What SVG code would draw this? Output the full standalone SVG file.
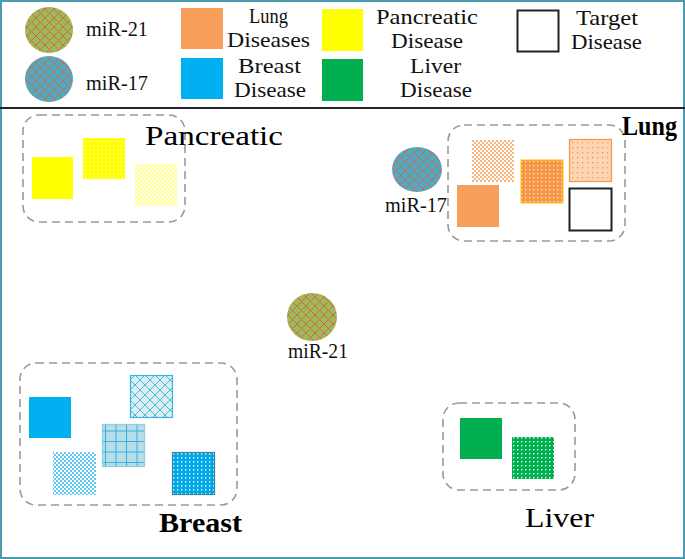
<svg xmlns="http://www.w3.org/2000/svg" width="685" height="559" viewBox="0 0 685 559">
<style>
.lbl{font-family:"Liberation Serif",serif;font-size:21px;fill:#111}
.big{font-family:"Liberation Serif",serif;font-size:28px;fill:#000}
.bold{font-weight:bold}
.grp{fill:none;stroke:#999;stroke-width:1.6;stroke-dasharray:8 5}
</style>
<defs>
<pattern id="lat21" width="9" height="9" patternUnits="userSpaceOnUse">
<rect width="9" height="9" fill="#9BBB59"/>
<path d="M0 0L9 9M9 0L0 9" stroke="#D8664A" stroke-width="1"/>
</pattern>
<pattern id="lat17" width="9" height="9" patternUnits="userSpaceOnUse">
<rect width="9" height="9" fill="#4BACC6"/>
<path d="M0 0L9 9M9 0L0 9" stroke="#D8664A" stroke-width="1"/>
</pattern>
<pattern id="orChk" width="4" height="4" patternUnits="userSpaceOnUse">
<rect width="4" height="4" fill="#FFF"/>
<rect width="2" height="2" fill="#FAB47C"/><rect x="2" y="2" width="2" height="2" fill="#FAB47C"/>
</pattern>
<pattern id="orDot" width="4" height="4" patternUnits="userSpaceOnUse">
<rect width="4" height="4" fill="#F79646"/>
<rect x="1" y="1" width="1.3" height="1.3" fill="#FFE4CC"/>
</pattern>
<pattern id="orLight" width="5" height="5" patternUnits="userSpaceOnUse">
<rect width="5" height="5" fill="#FCD5B4"/>
<rect x="2" y="2" width="1.3" height="1.3" fill="#F79646"/>
</pattern>
<pattern id="yeDot" width="4" height="4" patternUnits="userSpaceOnUse">
<rect width="4" height="4" fill="#FFFF00"/>
<rect x="1" y="1" width="1.3" height="1.3" fill="#FFFFC8"/>
</pattern>
<pattern id="yeLight" width="4" height="4" patternUnits="userSpaceOnUse">
<rect width="4" height="4" fill="#FFFFE0"/>
<rect width="2" height="2" fill="#FFFFA0"/><rect x="2" y="2" width="2" height="2" fill="#FFFFA0"/>
</pattern>
<pattern id="blDiam" width="10" height="10" patternUnits="userSpaceOnUse">
<rect width="10" height="10" fill="#DAEEF3"/>
<path d="M0 0L10 10M10 0L0 10" stroke="#4BB8D8" stroke-width="1"/>
</pattern>
<pattern id="blGrid" width="10.5" height="10.5" patternUnits="userSpaceOnUse">
<rect width="10.5" height="10.5" fill="#B7DDE8"/>
<path d="M0 0H10.5M0 0V10.5" stroke="#31B0E0" stroke-width="2"/>
</pattern>
<pattern id="blChk" width="4" height="4" patternUnits="userSpaceOnUse">
<rect width="4" height="4" fill="#FFF"/>
<rect width="2" height="2" fill="#5EC8F2"/><rect x="2" y="2" width="2" height="2" fill="#5EC8F2"/>
</pattern>
<pattern id="blDot" width="4" height="4" patternUnits="userSpaceOnUse">
<rect width="4" height="4" fill="#00A8E8"/>
<rect x="1" y="1" width="1.3" height="1.6" fill="#E0F6FF"/>
</pattern>
<pattern id="grDot" width="4" height="4" patternUnits="userSpaceOnUse">
<rect width="4" height="4" fill="#00B050"/>
<rect x="1" y="1" width="1.4" height="1.4" fill="#E6FFF0"/>
</pattern>
</defs>
<rect x="1" y="1" width="683" height="557" fill="#FFF" stroke="#4A9BB0" stroke-width="2"/>
<line x1="0" y1="108" x2="685" y2="108" stroke="#222" stroke-width="2"/>

<g id="legend">
<ellipse cx="49" cy="30" rx="24" ry="23" fill="url(#lat21)"/>
<text class="lbl" x="86" y="36" textLength="62" lengthAdjust="spacingAndGlyphs">miR-21</text>
<ellipse cx="49" cy="79" rx="24" ry="23" fill="url(#lat17)"/>
<text class="lbl" x="86" y="90" textLength="62" lengthAdjust="spacingAndGlyphs">miR-17</text>
<rect x="181" y="8" width="42" height="41" fill="#F79F5A"/>
<text class="lbl" x="249" y="23" textLength="39" lengthAdjust="spacingAndGlyphs">Lung</text>
<text class="lbl" x="227" y="47" textLength="83" lengthAdjust="spacingAndGlyphs">Diseases</text>
<rect x="322" y="9" width="41" height="42" fill="#FFFF00"/>
<text class="lbl" x="376" y="24" textLength="102" lengthAdjust="spacingAndGlyphs">Pancreatic</text>
<text class="lbl" x="391" y="48" textLength="72" lengthAdjust="spacingAndGlyphs">Disease</text>
<rect x="517.5" y="10.5" width="41" height="41" fill="#FFF" stroke="#222" stroke-width="2"/>
<text class="lbl" x="576" y="25" textLength="62" lengthAdjust="spacingAndGlyphs">Target</text>
<text class="lbl" x="571" y="49" textLength="71" lengthAdjust="spacingAndGlyphs">Disease</text>
<rect x="181" y="58" width="42" height="41" fill="#00B0F0"/>
<text class="lbl" x="238" y="73" textLength="63" lengthAdjust="spacingAndGlyphs">Breast</text>
<text class="lbl" x="234" y="97" textLength="72" lengthAdjust="spacingAndGlyphs">Disease</text>
<rect x="322" y="59" width="41" height="42" fill="#00B050"/>
<text class="lbl" x="410" y="73" textLength="51" lengthAdjust="spacingAndGlyphs">Liver</text>
<text class="lbl" x="400" y="97" textLength="72" lengthAdjust="spacingAndGlyphs">Disease</text>
</g>

<g id="pancreatic">
<rect class="grp" x="23" y="115" width="162" height="107" rx="16"/>
<rect x="32" y="157" width="41" height="42" fill="#FFFF00"/>
<rect x="83" y="138" width="42" height="41" fill="url(#yeDot)"/>
<rect x="135" y="164" width="42" height="42" fill="url(#yeLight)"/>
<text class="big" x="145" y="145" textLength="138" lengthAdjust="spacingAndGlyphs">Pancreatic</text>
</g>

<g id="lung">
<rect class="grp" x="448" y="125" width="177" height="116" rx="16"/>
<rect x="472" y="140" width="42" height="42" fill="url(#orChk)"/>
<rect x="457" y="185" width="42" height="42" fill="#F79F5A"/>
<rect x="521" y="160" width="42" height="43" fill="url(#orDot)" stroke="#FFC000" stroke-width="1"/>
<rect x="569.5" y="139.5" width="42" height="42" fill="url(#orLight)" stroke="#F79646" stroke-width="1.2"/>
<rect x="569.5" y="188.5" width="42" height="42" fill="#FFF" stroke="#222" stroke-width="2"/>
<text class="big bold" x="622" y="135" textLength="55" lengthAdjust="spacingAndGlyphs">Lung</text>
</g>

<g id="mir17">
<ellipse cx="417" cy="169.5" rx="25" ry="22.5" fill="url(#lat17)"/>
<text class="lbl" x="385" y="212" textLength="62" lengthAdjust="spacingAndGlyphs">miR-17</text>
</g>

<g id="mir21">
<ellipse cx="312" cy="317" rx="25" ry="24" fill="url(#lat21)"/>
<text class="lbl" x="288" y="358" textLength="60" lengthAdjust="spacingAndGlyphs">miR-21</text>
</g>

<g id="breast">
<rect class="grp" x="20" y="363" width="217" height="142" rx="16"/>
<rect x="29" y="397" width="42" height="41" fill="#00B0F0"/>
<rect x="130.5" y="375.5" width="42" height="42" fill="url(#blDiam)" stroke="#31B6E7" stroke-width="1.2"/>
<rect x="102.5" y="424.5" width="42" height="42" fill="url(#blGrid)" stroke="#92CDDC" stroke-width="1.2"/>
<rect x="53" y="452" width="43" height="43" fill="url(#blChk)"/>
<rect x="172.5" y="452.5" width="42" height="42" fill="url(#blDot)" stroke="#31859C" stroke-width="1.2"/>
<text class="big bold" x="159" y="532" textLength="83" lengthAdjust="spacingAndGlyphs">Breast</text>
</g>

<g id="liver">
<rect class="grp" x="443" y="403" width="132" height="87" rx="16"/>
<rect x="460" y="418" width="42" height="41" fill="#00B050"/>
<rect x="512" y="437" width="42" height="42" fill="url(#grDot)"/>
<text class="big" x="525" y="527" textLength="69" lengthAdjust="spacingAndGlyphs">Liver</text>
</g>

<g id="connectors"></g>
</svg>
